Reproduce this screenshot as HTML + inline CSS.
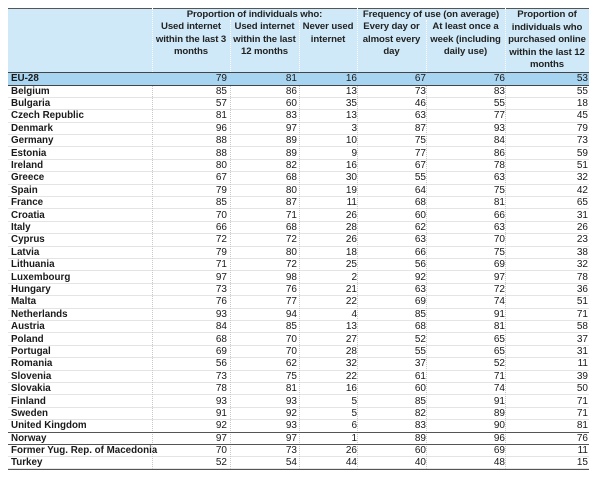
<!DOCTYPE html>
<html><head><meta charset="utf-8"><style>
body{margin:0;width:600px;height:482px;background:#fff;position:relative;overflow:hidden;font-family:"Liberation Sans",Arial,sans-serif;font-size:10px;color:#1a1a1a}
.hd{position:absolute;left:8px;top:8px;width:581px;height:64px;background:#cfe9f8;border-top:1.5px solid #555}
.ht{position:absolute;text-align:center;font-weight:bold;line-height:12.5px;color:#222;font-size:9.6px;letter-spacing:-0.1px}
.r{position:absolute;left:8px;width:581px;height:12.4px;border-bottom:1px solid #e4e4e4;box-sizing:border-box}
.r span{position:absolute;top:0;line-height:12px;text-align:right}
.r span:nth-child(1){left:3px;text-align:left;font-weight:bold;font-size:9.8px}
.r span:nth-child(2){left:146px;width:73px}
.r span:nth-child(3){left:224px;width:65px}
.r span:nth-child(4){left:293px;width:56px}
.r span:nth-child(5){left:351px;width:67px}
.r span:nth-child(6){left:420px;width:77px}
.r span:nth-child(7){left:499px;width:81px}
.v{position:absolute;width:0;border-left:1px dotted #c8c8c8}
.hv{position:absolute;width:0;border-left:1px dotted #fff}
.eu{background:#a7d4f0;border-top:1.5px solid #444;border-bottom:1.5px solid #444}
.line{position:absolute;left:8px;width:581px;height:0;border-top:1.5px solid #555}
</style></head><body>
<div class="hd"></div>
<div class="hv" style="left:152px;top:8px;height:64px"></div>
<div class="hv" style="left:357px;top:8px;height:64px"></div>
<div class="hv" style="left:505px;top:8px;height:64px"></div>
<div class="hv" style="left:230px;top:20px;height:52px"></div>
<div class="hv" style="left:299px;top:20px;height:52px"></div>
<div class="hv" style="left:426px;top:20px;height:52px"></div>
<div class="ht" style="left:152px;top:9px;width:205px;white-space:nowrap">Proportion of individuals who:</div>
<div class="ht" style="left:357px;top:9px;width:148px;white-space:nowrap">Frequency of use (on average)</div>
<div class="ht" style="left:505px;top:9px;width:84px">Proportion of individuals who purchased online within the last 12 months</div>
<div class="ht" style="left:152px;top:21px;width:78px">Used internet within the last 3 months</div>
<div class="ht" style="left:230px;top:21px;width:69px">Used internet within the last 12 months</div>
<div class="ht" style="left:299px;top:21px;width:58px">Never used internet</div>
<div class="ht" style="left:357px;top:21px;width:69px">Every day or almost every day</div>
<div class="ht" style="left:426px;top:21px;width:79px">At least once a week (including daily use)</div>

<div class="r eu" style="top:72px;height:13.5px"><span>EU-28</span><span>79</span><span>81</span><span>16</span><span>67</span><span>76</span><span>53</span></div>
<div class="r" style="top:85.5px"><span>Belgium</span><span>85</span><span>86</span><span>13</span><span>73</span><span>83</span><span>55</span></div>
<div class="r" style="top:97.9px"><span>Bulgaria</span><span>57</span><span>60</span><span>35</span><span>46</span><span>55</span><span>18</span></div>
<div class="r" style="top:110.3px"><span>Czech Republic</span><span>81</span><span>83</span><span>13</span><span>63</span><span>77</span><span>45</span></div>
<div class="r" style="top:122.7px"><span>Denmark</span><span>96</span><span>97</span><span>3</span><span>87</span><span>93</span><span>79</span></div>
<div class="r" style="top:135.1px"><span>Germany</span><span>88</span><span>89</span><span>10</span><span>75</span><span>84</span><span>73</span></div>
<div class="r" style="top:147.5px"><span>Estonia</span><span>88</span><span>89</span><span>9</span><span>77</span><span>86</span><span>59</span></div>
<div class="r" style="top:159.9px"><span>Ireland</span><span>80</span><span>82</span><span>16</span><span>67</span><span>78</span><span>51</span></div>
<div class="r" style="top:172.3px"><span>Greece</span><span>67</span><span>68</span><span>30</span><span>55</span><span>63</span><span>32</span></div>
<div class="r" style="top:184.7px"><span>Spain</span><span>79</span><span>80</span><span>19</span><span>64</span><span>75</span><span>42</span></div>
<div class="r" style="top:197.1px"><span>France</span><span>85</span><span>87</span><span>11</span><span>68</span><span>81</span><span>65</span></div>
<div class="r" style="top:209.5px"><span>Croatia</span><span>70</span><span>71</span><span>26</span><span>60</span><span>66</span><span>31</span></div>
<div class="r" style="top:221.9px"><span>Italy</span><span>66</span><span>68</span><span>28</span><span>62</span><span>63</span><span>26</span></div>
<div class="r" style="top:234.3px"><span>Cyprus</span><span>72</span><span>72</span><span>26</span><span>63</span><span>70</span><span>23</span></div>
<div class="r" style="top:246.7px"><span>Latvia</span><span>79</span><span>80</span><span>18</span><span>66</span><span>75</span><span>38</span></div>
<div class="r" style="top:259.1px"><span>Lithuania</span><span>71</span><span>72</span><span>25</span><span>56</span><span>69</span><span>32</span></div>
<div class="r" style="top:271.5px"><span>Luxembourg</span><span>97</span><span>98</span><span>2</span><span>92</span><span>97</span><span>78</span></div>
<div class="r" style="top:283.9px"><span>Hungary</span><span>73</span><span>76</span><span>21</span><span>63</span><span>72</span><span>36</span></div>
<div class="r" style="top:296.3px"><span>Malta</span><span>76</span><span>77</span><span>22</span><span>69</span><span>74</span><span>51</span></div>
<div class="r" style="top:308.7px"><span>Netherlands</span><span>93</span><span>94</span><span>4</span><span>85</span><span>91</span><span>71</span></div>
<div class="r" style="top:321.1px"><span>Austria</span><span>84</span><span>85</span><span>13</span><span>68</span><span>81</span><span>58</span></div>
<div class="r" style="top:333.5px"><span>Poland</span><span>68</span><span>70</span><span>27</span><span>52</span><span>65</span><span>37</span></div>
<div class="r" style="top:345.9px"><span>Portugal</span><span>69</span><span>70</span><span>28</span><span>55</span><span>65</span><span>31</span></div>
<div class="r" style="top:358.3px"><span>Romania</span><span>56</span><span>62</span><span>32</span><span>37</span><span>52</span><span>11</span></div>
<div class="r" style="top:370.7px"><span>Slovenia</span><span>73</span><span>75</span><span>22</span><span>61</span><span>71</span><span>39</span></div>
<div class="r" style="top:383.1px"><span>Slovakia</span><span>78</span><span>81</span><span>16</span><span>60</span><span>74</span><span>50</span></div>
<div class="r" style="top:395.5px"><span>Finland</span><span>93</span><span>93</span><span>5</span><span>85</span><span>91</span><span>71</span></div>
<div class="r" style="top:407.9px"><span>Sweden</span><span>91</span><span>92</span><span>5</span><span>82</span><span>89</span><span>71</span></div>
<div class="r" style="top:420.3px"><span>United Kingdom</span><span>92</span><span>93</span><span>6</span><span>83</span><span>90</span><span>81</span></div>
<div class="r" style="top:432.5px"><span>Norway</span><span>97</span><span>97</span><span>1</span><span>89</span><span>96</span><span>76</span></div>
<div class="r" style="top:444.6px"><span>Former Yug. Rep. of Macedonia</span><span>70</span><span>73</span><span>26</span><span>60</span><span>69</span><span>11</span></div>
<div class="r" style="top:457px"><span>Turkey</span><span>52</span><span>54</span><span>44</span><span>40</span><span>48</span><span>15</span></div>

<div class="v" style="left:152px;top:86px;height:383px"></div>
<div class="v" style="left:230px;top:86px;height:383px"></div>
<div class="v" style="left:299px;top:86px;height:383px"></div>
<div class="v" style="left:357px;top:86px;height:383px"></div>
<div class="v" style="left:426px;top:86px;height:383px"></div>
<div class="v" style="left:505px;top:86px;height:383px"></div>
<div class="line" style="top:431.6px"></div>
<div class="line" style="top:443.8px"></div>
<div class="line" style="top:468.6px"></div>
</body></html>
